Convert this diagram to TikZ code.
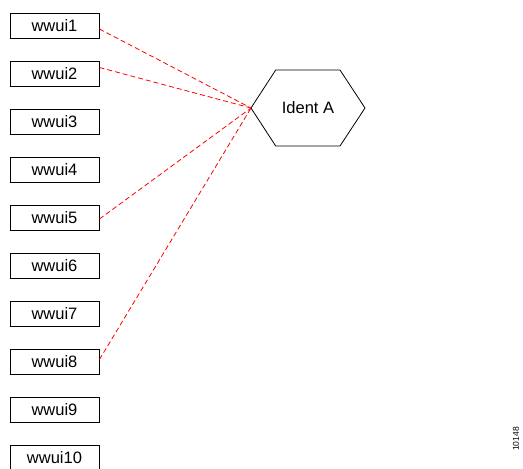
\documentclass[tikz,border=0pt]{standalone}
\usepackage{fontspec}
\setmainfont{Liberation Sans}
\begin{document}
\begin{tikzpicture}[x=1pt,y=-1pt,
  wbox/.style={draw=black,line width=0.9pt,minimum width=89pt,minimum height=25pt,inner sep=0pt,font=\fontsize{16.5}{18}\selectfont},
  link/.style={draw=red,line width=0.8pt,dash pattern=on 5pt off 3pt}]
\useasboundingbox (0,0) rectangle (523,469);
\foreach \k in {1,...,10}{
  \node[wbox] (b\k) at (54.5,{25.5+48*(\k-1)}) {wwui\k};
}
\draw[line width=0.8pt,black] (251,108) -- (275.7,70) -- (340,70) -- (365,108) -- (340,146) -- (275.7,146) -- cycle;
\node[font=\fontsize{16.5}{18}\selectfont] (hexa) at (308,108) {Ident A};
\coordinate (hexL) at (251,108);
\draw[link] ([yshift=-3.5pt]b1.east) -- (hexL);
\draw[link] ([yshift=6pt]b2.east) -- (hexL);
\draw[link] ([yshift=-1.5pt]b5.east) -- (hexL);
\draw[link] ([yshift=2pt]b8.east) -- (hexL);
\node[rotate=90,font=\fontsize{8.5}{9}\selectfont,inner sep=0pt] (id) at (516,439) {10148};
\end{tikzpicture}
\end{document}
